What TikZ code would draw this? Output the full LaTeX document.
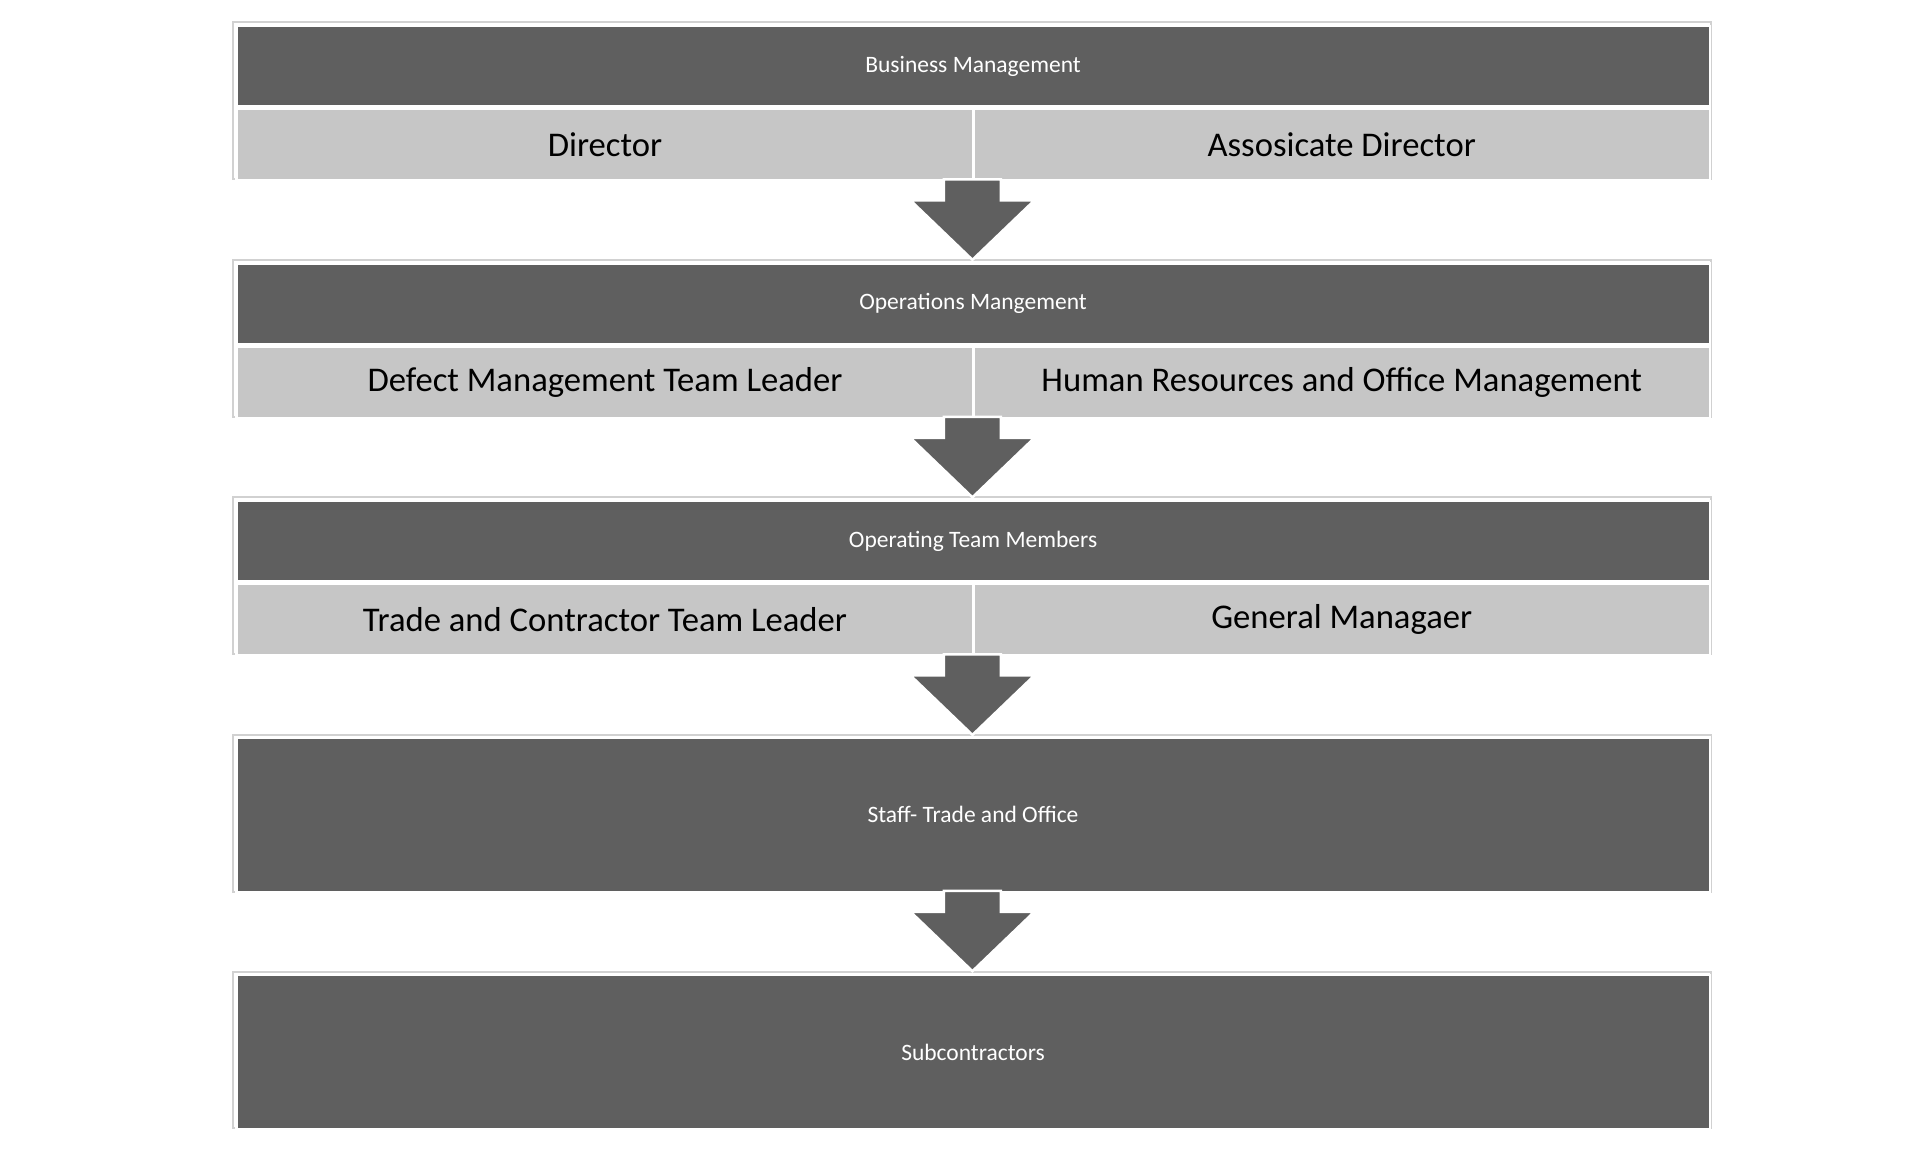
\documentclass[tikz,border=0pt]{standalone}
\usepackage{fontspec}
\setmainfont{Carlito}
\definecolor{darkbar}{RGB}{95,95,95}
\definecolor{lightbar}{RGB}{198,198,198}
\tikzset{
  headbox/.style={draw=white,line width=1pt,fill=darkbar,text=white,font=\fontsize{9.5}{11}\selectfont},
  rolebox/.style={draw=white,line width=1pt,fill=lightbar,text=black,font=\fontsize{14}{16}\selectfont},
  downarrow/.style={draw=white,line width=1pt,fill=darkbar}
}
\begin{document}
\begin{tikzpicture}[x=0.5pt,y=-0.5pt]
\useasboundingbox (0,0) rectangle (1560,930);
% frames
\foreach \t/\b in {18/145,210/337,402/529,594/721,786/912}
  \draw [lightbar!80,line width=0.8pt] (188,\t) rectangle (1383,\b);
% levels with two roles
\foreach \n/\t/\head/\lname/\rname in {1/20/Business Management/Director/Assosicate Director,
    2/212/Operations Mangement/Defect Management Team Leader/Human Resources and Office Management,
    3/404/Operating Team Members/Trade and Contractor Team Leader/General Managaer}{
  \node [headbox,minimum width=1191*0.5pt,minimum height=65*0.5pt,anchor=north west] (h\n) at (190,\t) {\head};
  \node [rolebox,minimum width=596*0.5pt,minimum height=58*0.5pt,anchor=north west] (l\n) at (h\n.south west) {\lname};
  \node [rolebox,minimum width=595*0.5pt,minimum height=58*0.5pt,anchor=north east] (r\n) at (h\n.south east) {\rname};
}
% levels without roles
\node [headbox,minimum width=1191*0.5pt,minimum height=125*0.5pt,anchor=north west] (h4) at (190,595) {Staff- Trade and Office};
\node [headbox,minimum width=1191*0.5pt,minimum height=125*0.5pt,anchor=north west] (h5) at (190,787) {Subcontractors};
% arrows
\foreach \y in {145,337,529,720}
  \draw [downarrow] (763,\y) -- (809,\y) -- (809,\y+17) -- (836,\y+17) -- (786,\y+65)
    -- (736,\y+17) -- (763,\y+17) -- cycle;
\end{tikzpicture}
\end{document}
